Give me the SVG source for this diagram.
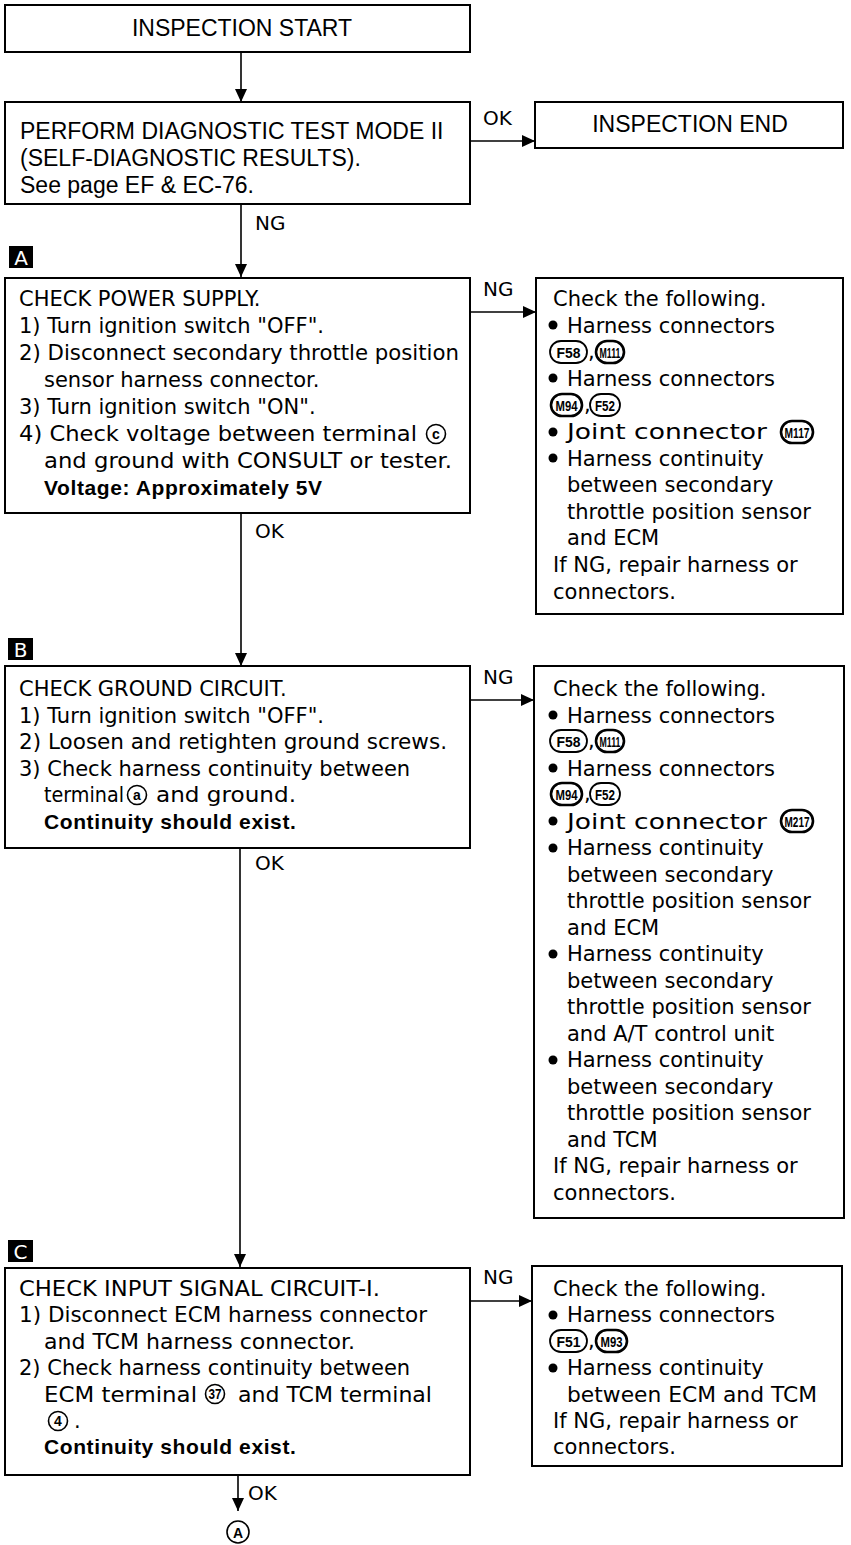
<svg xmlns="http://www.w3.org/2000/svg" width="851" height="1545" viewBox="0 0 851 1545">
<style>
  .box{fill:#fff;stroke:#000;stroke-width:2}
  .wire{fill:none;stroke:#000;stroke-width:1.6}
  .t{font-family:"DejaVu Sans","Liberation Sans",sans-serif;font-size:21px;fill:#000}
  .bd{font-family:"Liberation Sans",Arial,sans-serif;font-weight:bold;font-size:21px;letter-spacing:0.6px;fill:#000}
  .h{font-family:"Liberation Sans",Arial,sans-serif;font-size:23px;fill:#000}
  .lbl{font-family:"DejaVu Sans","Liberation Sans",sans-serif;font-size:20px;fill:#000}
  .tag{fill:#000}
  .tagt{font-family:"DejaVu Sans","Liberation Sans",sans-serif;font-size:20px;fill:#fff}
  .pill{fill:#fff;stroke:#000;stroke-width:1.8}
  .pillm{fill:#fff;stroke:#000;stroke-width:2.6}
  .pt{font-family:"Liberation Sans",Arial,sans-serif;font-weight:bold;font-size:15px;fill:#000;text-anchor:middle}
  .ring{fill:#fff;stroke:#000;stroke-width:1.6}
  .rt{font-family:"Liberation Sans",Arial,sans-serif;font-weight:bold;font-size:14px;fill:#000;text-anchor:middle}
  .dot{fill:#000}
</style>
<defs>
  <marker id="arr" markerUnits="userSpaceOnUse" markerWidth="14" markerHeight="12" refX="13" refY="6" orient="auto">
    <path d="M0,0 L13,6 L0,12 z" fill="#000"/>
  </marker>
</defs>

<!-- connectors -->
<g id="connectors">
  <line class="wire" x1="241" y1="52" x2="241" y2="102" marker-end="url(#arr)"/>
  <line class="wire" x1="470" y1="141" x2="535" y2="141" marker-end="url(#arr)"/>
  <line class="wire" x1="241" y1="204" x2="241" y2="277" marker-end="url(#arr)"/>
  <line class="wire" x1="470" y1="312" x2="536" y2="312" marker-end="url(#arr)"/>
  <line class="wire" x1="241" y1="513" x2="241" y2="666" marker-end="url(#arr)"/>
  <line class="wire" x1="470" y1="700" x2="534" y2="700" marker-end="url(#arr)"/>
  <line class="wire" x1="240" y1="848" x2="240" y2="1267" marker-end="url(#arr)"/>
  <line class="wire" x1="470" y1="1301" x2="532" y2="1301" marker-end="url(#arr)"/>
  <line class="wire" x1="238" y1="1475" x2="238" y2="1511" marker-end="url(#arr)"/>
  <text class="lbl" x="483" y="125">OK</text>
  <text class="lbl" x="255" y="230">NG</text>
  <text class="lbl" x="483" y="296">NG</text>
  <text class="lbl" x="255" y="538">OK</text>
  <text class="lbl" x="483" y="684">NG</text>
  <text class="lbl" x="255" y="870">OK</text>
  <text class="lbl" x="483" y="1284">NG</text>
  <text class="lbl" x="248" y="1500">OK</text>
</g>

<!-- start -->
<g id="start">
  <rect class="box" x="5" y="5" width="465" height="47"/>
  <text class="h" x="242" y="36" text-anchor="middle">INSPECTION START</text>
</g>

<!-- self-diagnosis -->
<g id="diag">
  <rect class="box" x="5" y="102" width="465" height="102"/>
  <text class="h" x="20" y="139">PERFORM DIAGNOSTIC TEST MODE II</text>
  <text class="h" x="20" y="166">(SELF-DIAGNOSTIC RESULTS).</text>
  <text class="h" x="20" y="193">See page EF &amp; EC-76.</text>
</g>

<g id="end">
  <rect class="box" x="535" y="102" width="308" height="46"/>
  <text class="h" x="690" y="132" text-anchor="middle">INSPECTION END</text>
</g>

<!-- step A -->
<g id="stepA">
  <rect class="tag" x="9" y="246" width="24" height="22"/>
  <text class="tagt" x="21" y="265" text-anchor="middle">A</text>
  <rect class="box" x="5" y="278" width="465" height="235"/>
  <text class="t" x="19" y="306">CHECK POWER SUPPLY.</text>
  <text class="t" x="19" y="333">1) Turn ignition switch "OFF".</text>
  <text class="t" x="19" y="360" textLength="440" lengthAdjust="spacingAndGlyphs">2) Disconnect secondary throttle position</text>
  <text class="t" x="44" y="387">sensor harness connector.</text>
  <text class="t" x="19" y="414">3) Turn ignition switch "ON".</text>
  <text class="t" x="19" y="441" textLength="398" lengthAdjust="spacingAndGlyphs">4) Check voltage between terminal</text>
  <circle class="ring" cx="436" cy="434" r="9.5"/>
  <text class="rt" x="436" y="439">c</text>
  <text class="t" x="44" y="468" textLength="408" lengthAdjust="spacingAndGlyphs">and ground with CONSULT or tester.</text>
  <text class="bd" x="44" y="495">Voltage: Approximately 5V</text>
</g>

<g id="repairA">
  <rect class="box" x="536" y="278" width="307" height="336"/>
  <text class="t" x="553" y="306">Check the following.</text>
  <circle class="dot" cx="553" cy="325" r="4.5"/>
  <text class="t" x="567" y="332.6">Harness connectors</text>
  <rect class="pill" x="550" y="341" width="37" height="22" rx="11"/>
  <text class="pt" x="568.5" y="357.5" textLength="24" lengthAdjust="spacingAndGlyphs">F58</text>
  <text class="t" x="588" y="359">,</text>
  <rect class="pillm" x="596" y="341" width="28" height="22" rx="11"/>
  <text class="pt" x="610" y="357.5" textLength="21" lengthAdjust="spacingAndGlyphs">M111</text>
  <circle class="dot" cx="553" cy="378" r="4.5"/>
  <text class="t" x="567" y="385.8">Harness connectors</text>
  <rect class="pillm" x="551" y="394" width="31" height="22" rx="11"/>
  <text class="pt" x="566.5" y="410.5" textLength="22" lengthAdjust="spacingAndGlyphs">M94</text>
  <text class="t" x="584" y="412">,</text>
  <rect class="pill" x="590" y="394" width="30" height="22" rx="11"/>
  <text class="pt" x="605" y="410.5" textLength="20" lengthAdjust="spacingAndGlyphs">F52</text>
  <circle class="dot" cx="553" cy="432" r="4.5"/>
  <text class="t" x="567" y="439" textLength="200" lengthAdjust="spacingAndGlyphs">Joint connector</text>
  <rect class="pillm" x="781" y="421" width="32" height="22" rx="11"/>
  <text class="pt" x="797" y="437.5" textLength="25" lengthAdjust="spacingAndGlyphs">M117</text>
  <circle class="dot" cx="553" cy="458" r="4.5"/>
  <text class="t" x="567" y="465.6">Harness continuity</text>
  <text class="t" x="567" y="492.2">between secondary</text>
  <text class="t" x="567" y="518.8">throttle position sensor</text>
  <text class="t" x="567" y="545.4">and ECM</text>
  <text class="t" x="553" y="572">If NG, repair harness or</text>
  <text class="t" x="553" y="598.6">connectors.</text>
</g>

<!-- step B -->
<g id="stepB">
  <rect class="tag" x="8" y="638" width="25" height="22"/>
  <text class="tagt" x="20.5" y="657" text-anchor="middle">B</text>
  <rect class="box" x="5" y="666" width="465" height="182"/>
  <text class="t" x="19" y="696">CHECK GROUND CIRCUIT.</text>
  <text class="t" x="19" y="722.6">1) Turn ignition switch "OFF".</text>
  <text class="t" x="19" y="749.2" textLength="428" lengthAdjust="spacingAndGlyphs">2) Loosen and retighten ground screws.</text>
  <text class="t" x="19" y="775.8">3) Check harness continuity between</text>
  <text class="t" x="44" y="802.4" textLength="80" lengthAdjust="spacingAndGlyphs">terminal</text>
  <circle class="ring" cx="137" cy="795" r="9.5"/>
  <text class="rt" x="137" y="800">a</text>
  <text class="t" x="156" y="802.4" textLength="140" lengthAdjust="spacingAndGlyphs">and ground.</text>
  <text class="bd" x="44" y="829">Continuity should exist.</text>
</g>

<g id="repairB">
  <rect class="box" x="534" y="666" width="310" height="552"/>
  <text class="t" x="553" y="696">Check the following.</text>
  <circle class="dot" cx="553" cy="715" r="4.5"/>
  <text class="t" x="567" y="722.5">Harness connectors</text>
  <rect class="pill" x="550" y="730" width="37" height="22" rx="11"/>
  <text class="pt" x="568.5" y="746.5" textLength="24" lengthAdjust="spacingAndGlyphs">F58</text>
  <text class="t" x="588" y="748">,</text>
  <rect class="pillm" x="596" y="730" width="28" height="22" rx="11"/>
  <text class="pt" x="610" y="746.5" textLength="21" lengthAdjust="spacingAndGlyphs">M111</text>
  <circle class="dot" cx="553" cy="768" r="4.5"/>
  <text class="t" x="567" y="775.5">Harness connectors</text>
  <rect class="pillm" x="551" y="783" width="31" height="22" rx="11"/>
  <text class="pt" x="566.5" y="799.5" textLength="22" lengthAdjust="spacingAndGlyphs">M94</text>
  <text class="t" x="584" y="801">,</text>
  <rect class="pill" x="590" y="783" width="30" height="22" rx="11"/>
  <text class="pt" x="605" y="799.5" textLength="20" lengthAdjust="spacingAndGlyphs">F52</text>
  <circle class="dot" cx="553" cy="821" r="4.5"/>
  <text class="t" x="567" y="828.5" textLength="200" lengthAdjust="spacingAndGlyphs">Joint connector</text>
  <rect class="pillm" x="781" y="810" width="32" height="22" rx="11"/>
  <text class="pt" x="797" y="826.5" textLength="25" lengthAdjust="spacingAndGlyphs">M217</text>
  <circle class="dot" cx="553" cy="848" r="4.5"/>
  <text class="t" x="567" y="855">Harness continuity</text>
  <text class="t" x="567" y="881.5">between secondary</text>
  <text class="t" x="567" y="908">throttle position sensor</text>
  <text class="t" x="567" y="934.5">and ECM</text>
  <circle class="dot" cx="553" cy="954" r="4.5"/>
  <text class="t" x="567" y="961">Harness continuity</text>
  <text class="t" x="567" y="987.5">between secondary</text>
  <text class="t" x="567" y="1014">throttle position sensor</text>
  <text class="t" x="567" y="1040.5">and A/T control unit</text>
  <circle class="dot" cx="553" cy="1060" r="4.5"/>
  <text class="t" x="567" y="1067">Harness continuity</text>
  <text class="t" x="567" y="1093.5">between secondary</text>
  <text class="t" x="567" y="1120">throttle position sensor</text>
  <text class="t" x="567" y="1146.5">and TCM</text>
  <text class="t" x="553" y="1173">If NG, repair harness or</text>
  <text class="t" x="553" y="1199.5">connectors.</text>
</g>

<!-- step C -->
<g id="stepC">
  <rect class="tag" x="8" y="1240" width="25" height="22"/>
  <text class="tagt" x="20.5" y="1259" text-anchor="middle">C</text>
  <rect class="box" x="5" y="1268" width="465" height="207"/>
  <text class="t" x="19" y="1296" textLength="361" lengthAdjust="spacingAndGlyphs">CHECK INPUT SIGNAL CIRCUIT-I.</text>
  <text class="t" x="19" y="1322.4" textLength="408" lengthAdjust="spacingAndGlyphs">1) Disconnect ECM harness connector</text>
  <text class="t" x="44" y="1348.8" textLength="311" lengthAdjust="spacingAndGlyphs">and TCM harness connector.</text>
  <text class="t" x="19" y="1375.2">2) Check harness continuity between</text>
  <text class="t" x="44" y="1401.6" textLength="153" lengthAdjust="spacingAndGlyphs">ECM terminal</text>
  <circle class="ring" cx="215" cy="1394" r="9.5"/>
  <text class="rt" x="215" y="1398.5" font-size="12" textLength="13" lengthAdjust="spacingAndGlyphs">37</text>
  <text class="t" x="238" y="1401.6" textLength="194" lengthAdjust="spacingAndGlyphs">and TCM terminal</text>
  <circle class="ring" cx="58" cy="1421" r="9.5"/>
  <text class="rt" x="58" y="1426">4</text>
  <text class="t" x="74" y="1428">.</text>
  <text class="bd" x="44" y="1454.4">Continuity should exist.</text>
</g>

<g id="repairC">
  <rect class="box" x="532" y="1266" width="310" height="200"/>
  <text class="t" x="553" y="1296">Check the following.</text>
  <circle class="dot" cx="553" cy="1315" r="4.5"/>
  <text class="t" x="567" y="1322.4">Harness connectors</text>
  <rect class="pill" x="550" y="1330" width="37" height="22" rx="11"/>
  <text class="pt" x="568.5" y="1346.5" textLength="24" lengthAdjust="spacingAndGlyphs">F51</text>
  <text class="t" x="588" y="1348">,</text>
  <rect class="pillm" x="596" y="1330" width="31" height="22" rx="11"/>
  <text class="pt" x="611.5" y="1346.5" textLength="22" lengthAdjust="spacingAndGlyphs">M93</text>
  <circle class="dot" cx="553" cy="1368" r="4.5"/>
  <text class="t" x="567" y="1375.2">Harness continuity</text>
  <text class="t" x="567" y="1401.6" textLength="250" lengthAdjust="spacingAndGlyphs">between ECM and TCM</text>
  <text class="t" x="553" y="1428">If NG, repair harness or</text>
  <text class="t" x="553" y="1454.4">connectors.</text>
</g>

<!-- off-page link -->
<g id="linkA">
  <circle class="ring" cx="238" cy="1532" r="11" stroke-width="2"/>
  <text class="rt" x="238" y="1538" font-size="16">A</text>
</g>
</svg>
